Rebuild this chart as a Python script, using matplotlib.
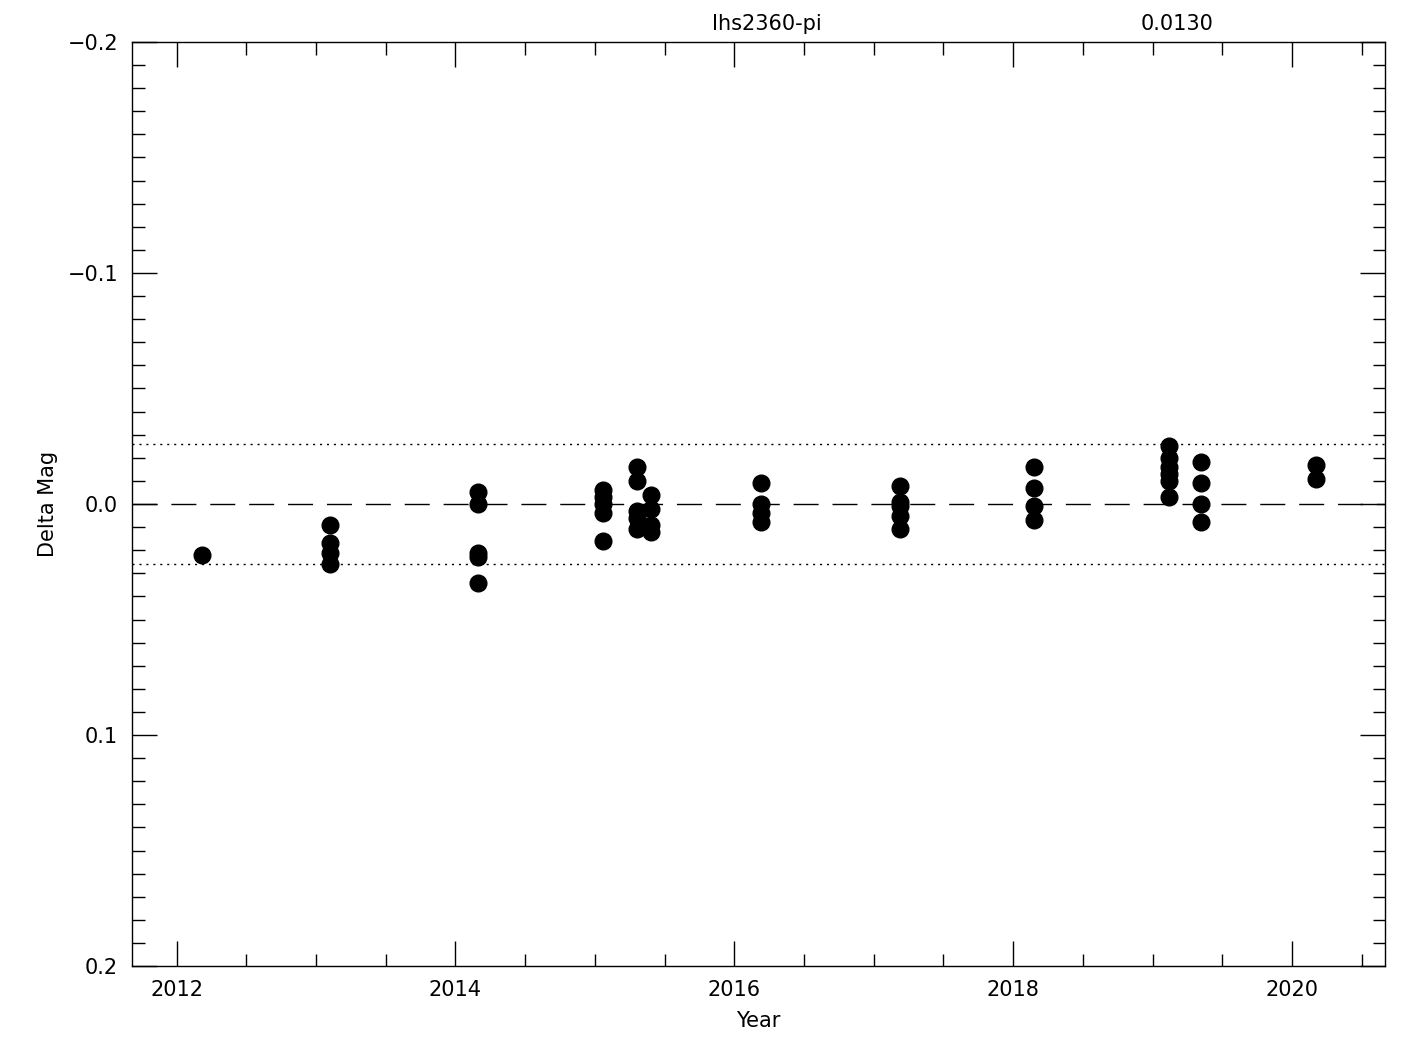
import numpy as np
import matplotlib
matplotlib.use("Agg")
import matplotlib.pyplot as plt
from matplotlib.ticker import MultipleLocator

plt.rcParams["font.family"] = ["DejaVu Sans"]

years = [2012.18,
         2013.10, 2013.10, 2013.10, 2013.10,
         2014.165, 2014.165, 2014.165, 2014.165, 2014.165,
         2015.06, 2015.06, 2015.06, 2015.06, 2015.06,
         2015.30, 2015.30, 2015.30, 2015.30, 2015.30,
         2015.40, 2015.40, 2015.40, 2015.40,
         2016.19, 2016.19, 2016.19, 2016.19,
         2017.19, 2017.19, 2017.19, 2017.19, 2017.19,
         2018.15, 2018.15, 2018.15, 2018.15,
         2019.12, 2019.12, 2019.12, 2019.12, 2019.12, 2019.12,
         2019.35, 2019.35, 2019.35, 2019.35,
         2020.17, 2020.17]
dmag = [0.022,
        0.009, 0.017, 0.021, 0.026,
        -0.005, 0.000, 0.021, 0.023, 0.034,
        -0.006, -0.003, 0.000, 0.004, 0.016,
        -0.016, -0.010, 0.003, 0.006, 0.011,
        -0.004, 0.002, 0.009, 0.012,
        -0.009, 0.000, 0.004, 0.008,
        -0.008, -0.001, 0.001, 0.005, 0.011,
        -0.016, -0.007, 0.001, 0.007,
        -0.025, -0.020, -0.016, -0.013, -0.010, -0.003,
        -0.018, -0.009, 0.000, 0.008,
        -0.017, -0.011]
star = "Ihs2360-pi"
sigma = 0.0130

fig = plt.figure(figsize=(14.25, 10.5), dpi=100)
ax = fig.add_axes([0.0926, 0.08, 0.8794, 0.88])

ax.plot(years, dmag, "o", color="black", markersize=12, zorder=3)
ax.axhline(0.0, color="black", lw=1, dashes=(18, 10))
ax.axhline(2 * sigma, color="black", lw=1, dashes=(1.5, 3.5))
ax.axhline(-2 * sigma, color="black", lw=1, dashes=(1.5, 3.5))

ax.set_xlim(2011.68, 2020.667)
ax.set_ylim(0.2, -0.2)

ax.xaxis.set_major_locator(MultipleLocator(2))
ax.xaxis.set_minor_locator(MultipleLocator(0.5))
ax.yaxis.set_major_locator(MultipleLocator(0.1))
ax.yaxis.set_minor_locator(MultipleLocator(0.01))
ax.yaxis.set_major_formatter(plt.FuncFormatter(lambda v, p: f"{v:.1f}".replace("-", "\u2212")))

ax.tick_params(which="both", direction="in", top=True, right=True, width=1,
               labelsize=15, pad=10)
ax.tick_params(which="major", length=18)
ax.tick_params(which="minor", length=9)
for s in ax.spines.values():
    s.set_linewidth(1)

ax.set_xlabel("Year", fontsize=15, labelpad=8)
ax.set_ylabel("Delta Mag", fontsize=15, labelpad=7)

fig.text(0.538, 0.977, star, ha="center", va="center", fontsize=15)
fig.text(0.826, 0.977, f"{sigma:.4f}", ha="center", va="center", fontsize=15)

fig.savefig("out.png", dpi=100)
